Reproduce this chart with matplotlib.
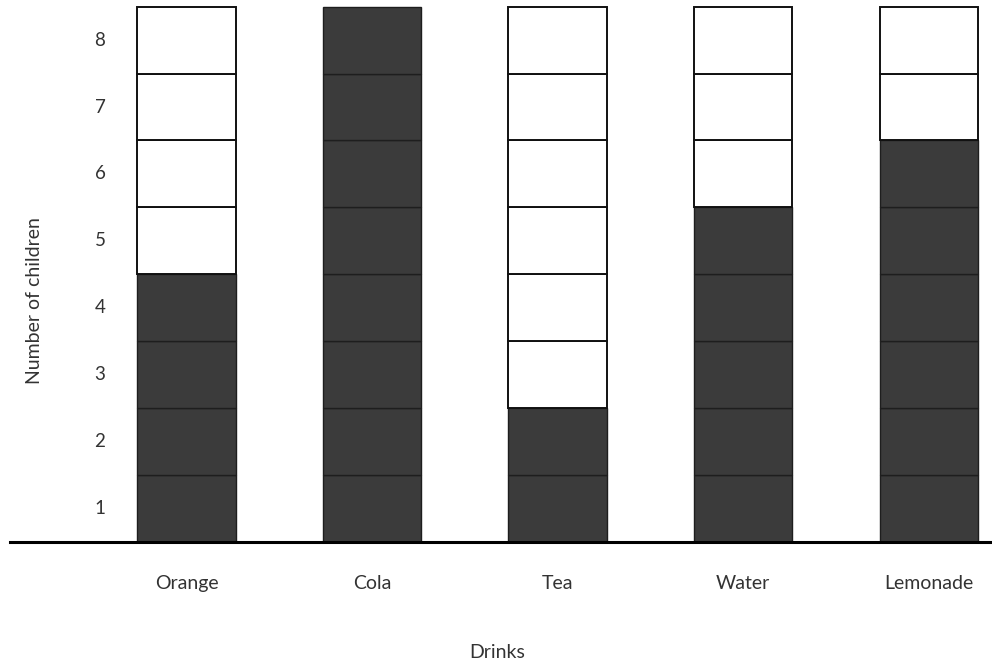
import numpy as np
import matplotlib.pyplot as plt

# drinks survey - number of children per drink
drinks = ["Orange", "Cola", "Tea", "Water", "Lemonade"]
children = [4, 8, 2, 5, 6]
levels = [1, 2, 3, 4, 5, 6, 7, 8]

plt.rcParams['font.family'] = ['Lato', 'DejaVu Sans']

fig = plt.figure(figsize=(9.92, 6.69), dpi=100)
ax = fig.add_axes([0.01, 0.19, 0.99, 0.81])

x = np.arange(len(drinks))
w = 0.53
for i, n in enumerate(children):
    for lv in levels:
        shaded = lv <= n
        ax.bar(x[i], 1, bottom=lv - 1, width=w,
               color="#3b3b3b" if shaded else "white",
               edgecolor="#1e1e1e" if shaded else "#111111",
               linewidth=1.0 if shaded else 1.4, zorder=2)

ax.set_xlim(-0.951, 4.34)
ax.set_ylim(0, 8.1)

for s in ["top", "right", "left"]:
    ax.spines[s].set_visible(False)
ax.spines["bottom"].set_linewidth(2.2)
ax.spines["bottom"].set_zorder(5)

ax.set_yticks([])
for lv in levels:
    ax.text(-0.466, lv - 0.5, str(lv), ha="center", va="center",
            fontsize=13.5, color="#333333")

ax.set_xticks(x)
ax.set_xticklabels(drinks, fontsize=14, color="#333333")
ax.tick_params(axis="x", length=0, pad=24)

fig.text(0.501, 0.012, "Drinks", ha="center", va="bottom",
         fontsize=14, color="#333333")
fig.text(0.035, 0.55, "Number of children", ha="center", va="center",
         rotation=90, fontsize=14, color="#333333")

fig.savefig("out.png", dpi=100)
